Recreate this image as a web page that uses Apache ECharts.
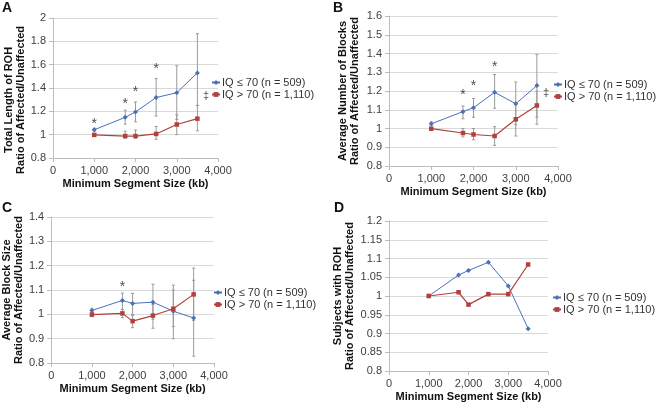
<!DOCTYPE html>
<html>
<head>
<meta charset="utf-8">
<script src="https://cdn.jsdelivr.net/npm/echarts@6/dist/echarts.min.js"></script>
<style>html,body{margin:0;padding:0;background:#fff}#c{width:656px;height:406px}</style>
</head>
<body>
<div id="c"></div>
<script>
// ---- data ----
const xs = [1000, 1750, 2000, 2500, 3000, 3500];
const seriesNames = ['IQ ≤ 70 (n = 509)', 'IQ > 70 (n = 1,110)'];
const panelLetters = ['A', 'B', 'C', 'D'];
const yNames = [
  'Total Length of ROH\nRatio of Affected/Unaffected',
  'Average Number of Blocks\nRatio of Affected/Unaffected',
  'Average Block Size\nRatio of Affected/Unaffected',
  'Subjects with ROH\nRatio of Affected/Unaffected'
];
const xName = 'Minimum Segment Size (kb)';

const aLow  = [1.042, 1.148, 1.194, 1.318, 1.359, 1.529];
const aHigh = [0.998, 0.988, 0.988, 1.006, 1.087, 1.137];
const bLow  = [1.025, 1.090, 1.111, 1.193, 1.132, 1.229];
const bHigh = [0.999, 0.976, 0.968, 0.960, 1.049, 1.123];
const cLow  = [1.016, 1.057, 1.045, 1.050, 1.013, 0.985];
const cHigh = [0.999, 1.004, 0.972, 0.995, 1.023, 1.082];
const dLow  = [1.000, 1.056, 1.068, 1.090, 1.027, 0.913];
const dHigh = [1.000, 1.010, 0.977, 1.005, 1.005, 1.084];

// error bars: [lower, upper]
const aLowErr  = [[1.03,1.055],[1.09,1.21],[1.11,1.28],[1.16,1.48],[1.13,1.59],[1.25,1.865]];
const aHighErr = [[0.99,1.008],[0.97,1.03],[0.97,1.04],[0.96,1.07],[1.0,1.17],[1.033,1.25]];
const bLowErr  = [[1.015,1.035],[1.052,1.12],[1.06,1.16],[1.108,1.288],[1.02,1.248],[1.06,1.395]];
const bHighErr = [[0.99,1.006],[0.955,1.0],[0.94,1.0],[0.91,1.01],[0.96,1.13],[1.023,1.2]];
const cLowErr  = [[1.006,1.025],[1.02,1.087],[1.0,1.086],[0.98,1.124],[0.95,1.12],[0.828,1.14]];
const cHighErr = [[0.99,1.008],[0.986,1.02],[0.945,0.995],[0.943,1.04],[0.9,1.1],[0.975,1.19]];

// significance marks: [x, y]
const aStars = [[1000,1.09],[1750,1.26],[2000,1.365],[2500,1.56]];
const aDagger = [[3709,1.33]];
const bStars = [[1750,1.18],[2000,1.228],[2500,1.328]];
const bDagger = [[3716,1.19]];
const cStars = [[1750,1.11]];

const yMin = [0.8, 0.8, 0.8, 0.8];
const yMax = [2, 1.6, 1.4, 1.2];
const yStep = [0.2, 0.1, 0.1, 0.05];
const xMin = 0, xMax = 4000, xStep = 1000;

// ---- layout ----
const grids = [
  {left: 53, top: 12, width: 165, height: 146},
  {left: 389, top: 16, width: 169, height: 150},
  {left: 50, top: 217, width: 164, height: 146},
  {left: 389, top: 221, width: 159, height: 150}
];
const yNameGap = [24, 28, 24, 33];
const yNamePad = [[0,24,0,0], 0, 0, 0];
const legendPos = [
  {left: 211, top: 77},
  {left: 553, top: 79},
  {left: 213, top: 287},
  {left: 552, top: 292}
];
const letterPos = [[2,1],[333,1],[2,201],[334,201]];

const BLUE = '#4A70B7';
const RED = '#B2413D';
const ERR = '#9a9a9a';

const lows = [aLow, bLow, cLow, dLow];
const highs = [aHigh, bHigh, cHigh, dHigh];
const lowErrs = [aLowErr, bLowErr, cLowErr, null];
const highErrs = [aHighErr, bHighErr, cHighErr, null];
const stars = [aStars, bStars, cStars, null];
const daggers = [aDagger, bDagger, null, null];

function fmtY(v){ return String(+v.toFixed(2)); }
function fmtX(v){ return v.toLocaleString('en-US'); }

const option = {
  animation: false,
  textStyle: {fontFamily: 'Liberation Sans, Arial, sans-serif'},
  grid: grids.map(g => Object.assign({}, g)),
  xAxis: grids.map((g, i) => ({
    gridIndex: i, type: 'value', min: xMin, max: xMax, interval: xStep,
    name: xName, nameLocation: 'middle', nameGap: 20,
    nameTextStyle: {fontWeight: 'bold', fontSize: 11, color: '#111'},
    axisLine: {show: true, lineStyle: {color: '#bdbdbd'}},
    axisTick: {show: true, length: 4, lineStyle: {color: '#bdbdbd'}},
    axisLabel: {formatter: fmtX, fontSize: 11, color: '#404040', margin: 7},
    splitLine: {show: false}
  })),
  yAxis: grids.map((g, i) => ({
    gridIndex: i, type: 'value', min: yMin[i], max: yMax[i], interval: yStep[i],
    name: yNames[i], nameLocation: 'middle', nameGap: yNameGap[i],
    nameTextStyle: {fontWeight: 'bold', fontSize: 11, lineHeight: 12, color: '#111', padding: yNamePad[i]},
    axisLine: {show: true, lineStyle: {color: '#bdbdbd'}},
    axisTick: {show: true, length: 4, lineStyle: {color: '#bdbdbd'}},
    axisLabel: {formatter: fmtY, fontSize: 11, color: '#404040', margin: 7},
    splitLine: {show: true, lineStyle: {color: '#d9d9d9'}}
  })),
  legend: legendPos.map(p => ({
    left: p.left, top: p.top, orient: 'vertical', itemGap: 1,
    itemWidth: 8, itemHeight: 6, padding: 0,
    data: seriesNames,
    textStyle: {fontSize: 11, color: '#333', padding: [0,0,0,-3]}
  })),
  graphic: letterPos.map((p, i) => ({
    type: 'text', left: p[0], top: p[1],
    style: {text: panelLetters[i], font: 'bold 14px Liberation Sans, Arial, sans-serif', fill: '#111'}
  })),
  series: []
};

function errSeries(data, i) {
  return {
    type: 'custom', xAxisIndex: i, yAxisIndex: i, silent: true, z: 1,
    data: data.map((d, k) => [xs[k], d[0], d[1]]),
    renderItem: function(params, api) {
      const lo = api.coord([api.value(0), api.value(1)]);
      const hi = api.coord([api.value(0), api.value(2)]);
      const s = {stroke: ERR, lineWidth: 1};
      return {type: 'group', children: [
        {type: 'line', shape: {x1: lo[0], y1: lo[1], x2: hi[0], y2: hi[1]}, style: s},
        {type: 'line', shape: {x1: lo[0]-1.5, y1: lo[1], x2: lo[0]+1.5, y2: lo[1]}, style: s},
        {type: 'line', shape: {x1: hi[0]-1.5, y1: hi[1], x2: hi[0]+1.5, y2: hi[1]}, style: s}
      ]};
    }
  };
}
function markSeries(data, txt, i, size) {
  return {
    type: 'scatter', xAxisIndex: i, yAxisIndex: i, silent: true, symbolSize: 0, z: 5,
    data: data,
    label: {show: true, position: 'inside', formatter: txt, fontSize: size, color: '#222'}
  };
}

for (let i = 0; i < 4; i++) {
  if (lowErrs[i]) option.series.push(errSeries(lowErrs[i], i));
  if (highErrs[i]) option.series.push(errSeries(highErrs[i], i));
  option.series.push({
    name: seriesNames[0], type: 'line', xAxisIndex: i, yAxisIndex: i, z: 3,
    data: xs.map((x, k) => [x, lows[i][k]]),
    symbol: 'diamond', symbolSize: 5, showSymbol: true,
    lineStyle: {color: BLUE, width: 1}, itemStyle: {color: BLUE}
  });
  option.series.push({
    name: seriesNames[1], type: 'line', xAxisIndex: i, yAxisIndex: i, z: 3,
    data: xs.map((x, k) => [x, highs[i][k]]),
    symbol: 'rect', symbolSize: 4.5, showSymbol: true,
    lineStyle: {color: RED, width: 1.2}, itemStyle: {color: RED}
  });
  if (stars[i]) option.series.push(markSeries(stars[i], '*', i, 14));
  if (daggers[i]) option.series.push(markSeries(daggers[i], '‡', i, 11));
}

const chart = echarts.init(document.getElementById('c'), null, {renderer: 'canvas'});
chart.setOption(option);
</script>
</body>
</html>
